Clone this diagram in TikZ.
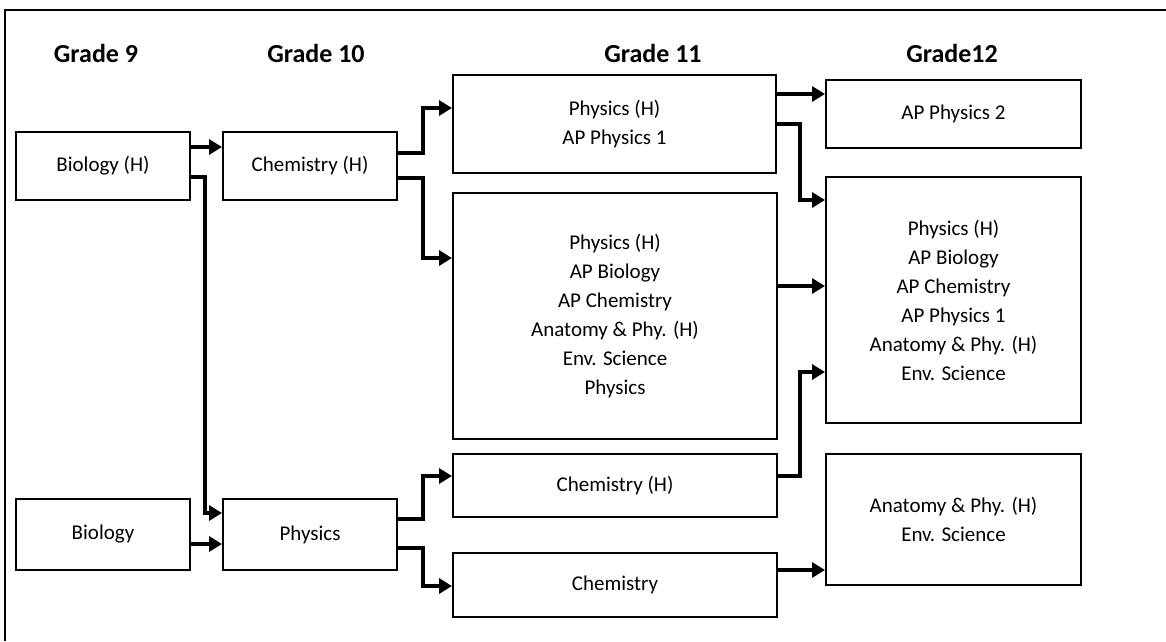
\documentclass[tikz,border=0pt]{standalone}
\usepackage{fontspec}
\setmainfont{Carlito}
\usetikzlibrary{arrows.meta}
\tikzset{
  box/.style={draw=black, line width=2pt, rectangle, inner sep=0pt, align=center,
    font=\fontsize{21}{29}\selectfont},
  head/.style={anchor=base, font=\fontsize{26}{30}\selectfont\bfseries, inner sep=0pt},
  arr/.style={line width=3.3pt, -{Triangle[length=13pt,width=15pt]}},
}
\begin{document}
\begin{tikzpicture}[x=1pt,y=-1pt]
\useasboundingbox (0,0) rectangle (1166,641);
\draw[line width=2pt] (1166,10) -- (5,10) -- (5,641);

\node[head] (h9) at (96,62) {Grade 9};
\node[head] (h10) at (316,62) {Grade 10};
\node[head] (h11) at (653,62) {Grade 11};
\node[head] (h12) at (952,62) {Grade12};

\node[box, minimum width=174pt, minimum height=68pt] (bioH) at (103,166) {Biology (H)};
\node[box, minimum width=174pt, minimum height=68pt] (chemHten) at (310,166) {Chemistry (H)};
\node[box, minimum width=174pt, minimum height=71pt] (bio) at (103,534.5) {Biology};
\node[box, minimum width=174pt, minimum height=71pt] (physten) at (310,534.5) {Physics};

\node[box, minimum width=323pt, minimum height=98pt] (ga) at (614.5,124) {Physics (H)\\AP Physics 1};
\node[box, minimum width=324pt, minimum height=246pt] (gb) at (615,316) {Physics (H)\\AP Biology\\AP Chemistry\\Anatomy \& Phy. (H)\\Env. Science\\Physics};
\node[box, minimum width=324pt, minimum height=63pt] (gc) at (615,485.5) {Chemistry (H)};
\node[box, minimum width=324pt, minimum height=64pt] (gd) at (615,585) {Chemistry};

\node[box, minimum width=255pt, minimum height=68pt] (ta) at (953.5,114) {AP Physics 2};
\node[box, minimum width=255pt, minimum height=246pt] (tb) at (953.5,300) {Physics (H)\\AP Biology\\AP Chemistry\\AP Physics 1\\Anatomy \& Phy. (H)\\Env. Science};
\node[box, minimum width=255pt, minimum height=131pt] (tc) at (953.5,519.5) {Anatomy \& Phy. (H)\\Env. Science};

\draw[arr] (bioH.east |- 0,147) -- (chemHten.west |- 0,147);
\draw[arr] (bioH.east |- 0,177) -| (205,513) -- (physten.west |- 0,513);
\draw[arr] (bio.east |- 0,544) -- (physten.west |- 0,544);
\draw[arr] (chemHten.east |- 0,153) -| (423,108) -- (ga.west |- 0,108);
\draw[arr] (chemHten.east |- 0,178) -| (423,258) -- (gb.west |- 0,258);
\draw[arr] (physten.east |- 0,519) -| (423,476) -- (gc.west |- 0,476);
\draw[arr] (physten.east |- 0,548) -| (423,586) -- (gd.west |- 0,586);
\draw[arr] (ga.east |- 0,94) -- (ta.west |- 0,94);
\draw[arr] (ga.east |- 0,124) -| (800,200) -- (tb.west |- 0,200);
\draw[arr] (gb.east |- 0,286) -- (tb.west |- 0,286);
\draw[arr] (gc.east |- 0,476) -| (800,372) -- (tb.west |- 0,372);
\draw[arr] (gd.east |- 0,570) -- (tc.west |- 0,570);
\end{tikzpicture}
\end{document}
